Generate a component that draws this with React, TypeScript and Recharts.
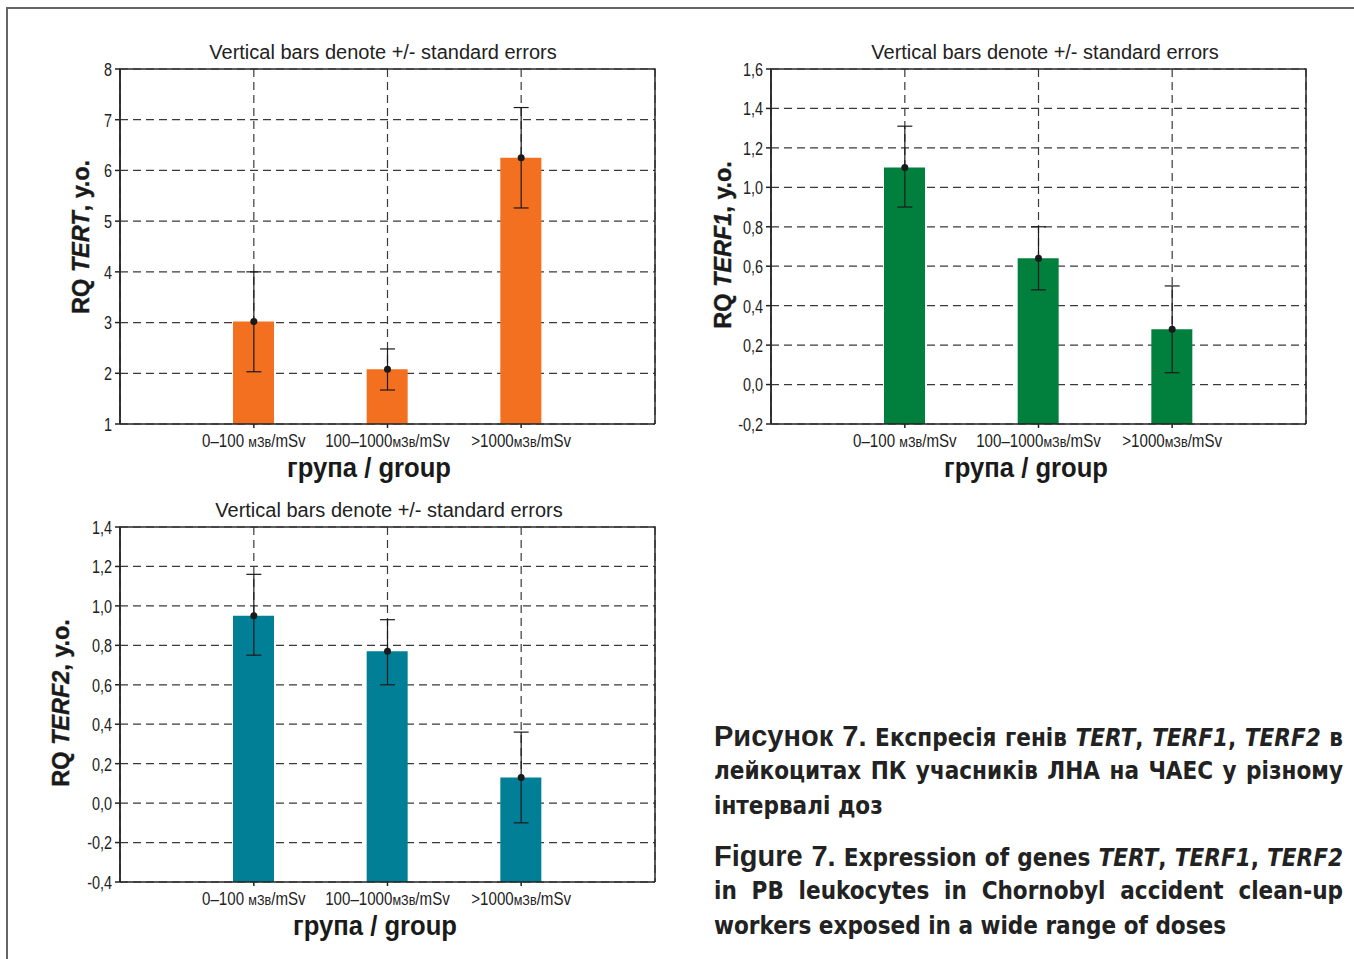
import {
  Bar,
  CartesianGrid,
  ComposedChart,
  ErrorBar,
  Scatter,
  XAxis,
  YAxis,
} from "recharts";

const groups = ["0–100 мЗв/mSv", "100–1000мЗв/mSv", ">1000мЗв/mSv"];

const tertMean = [3.02, 2.08, 6.25];
const tertLow = [2.03, 1.67, 5.26];
const tertHigh = [4.0, 2.48, 7.24];
const tertTicks = [1, 2, 3, 4, 5, 6, 7, 8];

const terf1Mean = [1.1, 0.64, 0.28];
const terf1Low = [0.9, 0.48, 0.06];
const terf1High = [1.31, 0.8, 0.5];
const terf1Ticks = [-0.2, 0, 0.2, 0.4, 0.6, 0.8, 1.0, 1.2, 1.4, 1.6];

const terf2Mean = [0.95, 0.77, 0.13];
const terf2Low = [0.75, 0.6, -0.1];
const terf2High = [1.16, 0.93, 0.36];
const terf2Ticks = [-0.4, -0.2, 0, 0.2, 0.4, 0.6, 0.8, 1.0, 1.2, 1.4];

const sans = "'Liberation Sans', Arial, sans-serif";
const condensed = "'DejaVu Sans Condensed', 'DejaVu Sans', sans-serif";
const W = 680;
const H = 480;
const M = { top: 69, right: 25, bottom: 0, left: 0 };
const yAxisW = 120;
const xAxisH = 56;

function buildRows(mean: number[], low: number[], high: number[], base: number) {
  return groups.map((g, i) => ({
    group: g,
    bar: [base, mean[i]],
    mean: mean[i],
    err: [mean[i] - low[i], high[i] - mean[i]],
  }));
}

function Dot(props: any) {
  return <circle cx={props.cx} cy={props.cy} r={3.5} fill="#1a1a1a" />;
}

// condensed-looking tick labels (no narrow font installed)
function XTick(props: any) {
  const { x, y, payload } = props;
  const m = String(payload.value).match(/^(.*?)(мЗв)(.*)$/);
  return (
    <g transform={`translate(${x},${y})`}>
      <text transform="scale(0.84,1)" textAnchor="middle" dy="0.71em" fontFamily={sans} fontSize={18} fill="#222">
        {m ? (
          <>
            {m[1]}
            <tspan fontSize={15}>{m[2]}</tspan>
            {m[3]}
          </>
        ) : (
          payload.value
        )}
      </text>
    </g>
  );
}

function makeYTick(decimals: number) {
  return function YTick(props: any) {
    const { x, y, payload } = props;
    const label = Number(payload.value).toFixed(decimals).replace(".", ",");
    return (
      <g transform={`translate(${x},${y})`}>
        <text transform="scale(0.76,1)" textAnchor="end" dy="0.36em" fontFamily={sans} fontSize={19} fill="#222">
          {label}
        </text>
      </g>
    );
  };
}

type PanelProps = {
  left: number;
  top: number;
  gene: string;
  color: string;
  mean: number[];
  low: number[];
  high: number[];
  ticks: number[];
  decimals: number;
  labelX: number;
  labelY: number;
  titleX: number;
  xTitleX: number;
};

function Panel(p: PanelProps) {
  const yMin = p.ticks[0];
  const yMax = p.ticks[p.ticks.length - 1];
  const rows = buildRows(p.mean, p.low, p.high, yMin);
  const plotX = M.left + yAxisW;
  const plotY = M.top;
  const plotW = W - M.left - M.right - yAxisW;
  const plotH = H - M.top - M.bottom - xAxisH;
  const YTick = makeYTick(p.decimals);
  return (
    <div style={{ position: "absolute", left: p.left, top: p.top, width: W, height: H }}>
      <ComposedChart width={W} height={H} data={rows} margin={M}>
        <CartesianGrid stroke="#3a3a3a" strokeDasharray="8 5" strokeWidth={1.2} />
        <XAxis
          dataKey="group"
          height={xAxisH}
          padding={{ left: 67, right: 67 }}
          tickSize={4}
          tickMargin={6}
          interval={0}
          stroke="#222"
          strokeWidth={1.5}
          tick={<XTick />}
        />
        <YAxis
          type="number"
          width={yAxisW}
          domain={[yMin, yMax]}
          ticks={p.ticks}
          tickSize={5}
          tickMargin={3}
          stroke="#222"
          strokeWidth={1.5}
          tick={<YTick />}
        />
        <Bar dataKey="bar" fill={p.color} barSize={41} isAnimationActive={false} />
        <Scatter dataKey="mean" shape={<Dot />} isAnimationActive={false}>
          <ErrorBar dataKey="err" direction="y" width={7.5} stroke="#1a1a1a" strokeWidth={1.2} />
        </Scatter>
      </ComposedChart>
      <svg width={W} height={H} style={{ position: "absolute", left: 0, top: 0, pointerEvents: "none", overflow: "visible" }}>
        <path
          d={`M${plotX},${plotY + plotH} V${plotY} H${plotX + plotW} V${plotY + plotH}`}
          fill="none"
          stroke="#2a2a2a"
          strokeWidth={1.5}
        />
        <text x={p.titleX} y={52} textAnchor="middle" dominantBaseline="central" fontFamily={sans} fontSize={20} fill="#222">
          Vertical bars denote +/- standard errors
        </text>
        <text
          transform={`translate(${p.labelX}, ${p.labelY}) rotate(-90)`}
          textAnchor="middle"
          dominantBaseline="central"
          fontFamily={sans}
          fontWeight="bold"
          fontSize={23.5}
          fill="#1a1a1a"
          stroke="#1a1a1a"
          strokeWidth={0.4}
        >
          RQ <tspan fontStyle="italic">{p.gene}</tspan>, у.о.
        </text>
        <g transform={`translate(${p.xTitleX}, 468)`}>
          <text transform="scale(0.95,1)" textAnchor="middle" dominantBaseline="central" fontFamily={sans} fontWeight="bold" fontSize={27} fill="#1a1a1a">
            група / group
          </text>
        </g>
      </svg>
    </div>
  );
}

const lineStyle: React.CSSProperties = {
  textAlign: "justify",
  textAlignLast: "justify",
  whiteSpace: "nowrap",
  height: 35,
  lineHeight: "35px",
};

function Caption() {
  return (
    <div
      style={{
        position: "absolute",
        left: 714,
        top: 719,
        width: 629,
        fontFamily: condensed,
        fontStretch: "condensed",
        fontWeight: "bold",
        fontSize: 24,
        color: "#222",
      }}
    >
      <div style={lineStyle}>
        <span style={{ fontFamily: sans, fontSize: 29 }}>Рисунок 7.</span> Експресія генів{" "}
        <i>TERT</i>, <i>TERF1</i>, <i>TERF2</i> в
      </div>
      <div style={lineStyle}>лейкоцитах ПК учасників ЛНА на ЧАЕС у різному</div>
      <div style={{ ...lineStyle, textAlignLast: "left" }}>інтервалі доз</div>
      <div style={{ ...lineStyle, marginTop: 15 }}>
        <span style={{ fontFamily: sans, fontSize: 29 }}>Figure 7.</span> Expression of genes{" "}
        <i>TERT</i>, <i>TERF1</i>, <i>TERF2</i>
      </div>
      <div style={lineStyle}>in PB leukocytes in Chornobyl accident clean-up</div>
      <div style={{ ...lineStyle, textAlignLast: "left" }}>workers exposed in a wide range of doses</div>
    </div>
  );
}

export default function App() {
  return (
    <div style={{ position: "absolute", left: 0, top: 0, width: 1354, height: 959, background: "#fff", overflow: "hidden" }}>
      <div style={{ position: "absolute", left: 6, top: 7, width: 1348, height: 2, background: "#666" }} />
      <div style={{ position: "absolute", left: 6, top: 7, width: 2, height: 952, background: "#666" }} />
      <Panel
        left={0}
        top={0}
        gene="TERT"
        color="#f37021"
        mean={tertMean}
        low={tertLow}
        high={tertHigh}
        ticks={tertTicks}
        decimals={0}
        labelX={81}
        labelY={237}
        titleX={383}
        xTitleX={369}
      />
      <Panel
        left={651}
        top={0}
        gene="TERF1"
        color="#007f3d"
        mean={terf1Mean}
        low={terf1Low}
        high={terf1High}
        ticks={terf1Ticks}
        decimals={1}
        labelX={72}
        labelY={245}
        titleX={394}
        xTitleX={375}
      />
      <Panel
        left={0}
        top={458}
        gene="TERF2"
        color="#007f96"
        mean={terf2Mean}
        low={terf2Low}
        high={terf2High}
        ticks={terf2Ticks}
        decimals={1}
        labelX={61}
        labelY={245}
        titleX={389}
        xTitleX={375}
      />
      <Caption />
    </div>
  );
}
